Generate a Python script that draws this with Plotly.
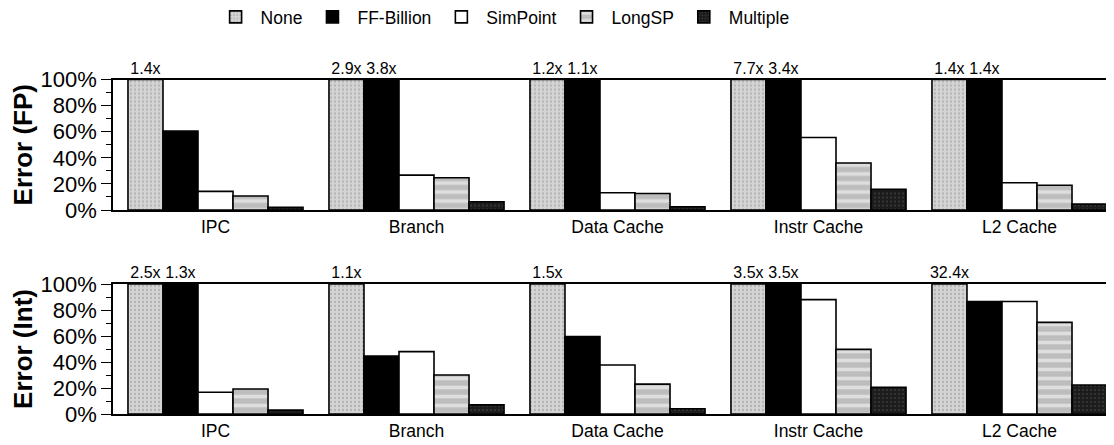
import plotly.graph_objects as go
from plotly.subplots import make_subplots

categories = ["IPC", "Branch", "Data Cache", "Instr Cache", "L2 Cache"]
series_names = ["None", "FF-Billion", "SimPoint", "LongSP", "Multiple"]

# Error in percent; values above 100 are shown clipped with an "Nx" label
fp_none = [140, 290, 120, 770, 140]
fp_ff = [60.5, 380, 110, 340, 140]
fp_simpoint = [14.3, 26.7, 13.2, 55.5, 20.9]
fp_longsp = [10.7, 24.7, 12.7, 36.0, 19.0]
fp_multiple = [2.0, 6.3, 2.5, 15.8, 4.5]

int_none = [250, 110, 150, 350, 3240]
int_ff = [130, 44.6, 59.5, 350, 86.5]
int_simpoint = [16.7, 48.0, 37.7, 88.0, 86.5]
int_longsp = [19.2, 30.0, 23.0, 49.7, 70.5]
int_multiple = [3.0, 7.0, 4.0, 20.5, 22.3]

y_ticks = [0, 20, 40, 60, 80, 100]
y_ticktext = [f"{t}%" for t in y_ticks]

styles = {
    "None": dict(color="#d4d4d4", pattern=dict(shape=".", fgcolor="#8f8f8f", bgcolor="#d4d4d4", size=4, solidity=0.25)),
    "FF-Billion": dict(color="#000000"),
    "SimPoint": dict(color="#ffffff"),
    "LongSP": dict(color="#bdbdbd", pattern=dict(shape="-", fgcolor="#ffffff", bgcolor="#bdbdbd", size=9, solidity=0.4)),
    "Multiple": dict(color="#1c1c1c", pattern=dict(shape=".", fgcolor="#5a5a5a", bgcolor="#1c1c1c", size=4, solidity=0.2)),
}

FONT = "Liberation Sans, Arial, Helvetica, sans-serif"

fig = make_subplots(rows=2, cols=1)

panels = [
    (1, [fp_none, fp_ff, fp_simpoint, fp_longsp, fp_multiple]),
    (2, [int_none, int_ff, int_simpoint, int_longsp, int_multiple]),
]

for row, series in panels:
    for name, vals in zip(series_names, series):
        st = styles[name]
        marker = dict(color=st["color"], line=dict(color="black", width=1.6))
        if "pattern" in st:
            marker["pattern"] = st["pattern"]
        fig.add_trace(
            go.Bar(
                x=categories,
                y=[min(v, 100) for v in vals],
                name=name,
                marker=marker,
                text=[f"{v / 100:.1f}x" if v > 100 else "" for v in vals],
                textposition="outside",
                cliponaxis=False,
                constraintext="none",
                textfont=dict(size=16, color="black", family=FONT),
                showlegend=(row == 1),
                legendgroup=name,
            ),
            row=row, col=1,
        )

axis_common_x = dict(
    type="category", range=[-0.51, 4.51], showline=True, mirror=True,
    linecolor="black", linewidth=1.6, ticks="", showgrid=False,
    tickfont=dict(size=17.5, color="black", family=FONT),
)
axis_common_y = dict(
    range=[0, 100], tickmode="array", tickvals=y_ticks, ticktext=y_ticktext,
    showline=True, linecolor="black", linewidth=1.6, ticks="outside", ticklen=10,
    tickwidth=1.4, tickcolor="black", showgrid=False, zeroline=False,
    minor=dict(dtick=10, ticks="outside", ticklen=5, tickcolor="black", tickwidth=1.2),
    tickfont=dict(size=22, color="black", family=FONT),
)

fig.update_xaxes(**axis_common_x)
fig.update_yaxes(**axis_common_y)

H = 445
OFF = 8  # page body margin offset
fig.update_layout(
    width=1114, height=H,
    margin=dict(l=113 - OFF, r=0, t=0, b=0, autoexpand=False),
    paper_bgcolor="white", plot_bgcolor="white",
    barmode="group", bargap=0.129, bargroupgap=0,
    font=dict(family=FONT, color="black"),
    xaxis=dict(domain=[0, 1]),
    xaxis2=dict(domain=[0, 1]),
    yaxis=dict(domain=[(H - (210 - OFF)) / H, (H - (79.5 - OFF)) / H],
               title=dict(text="<b>Error (FP)</b>", font=dict(size=26), standoff=2)),
    yaxis2=dict(domain=[(H - (414 - OFF)) / H, (H - (284 - OFF)) / H],
                title=dict(text="<b>Error (Int)</b>", font=dict(size=26), standoff=2)),
    legend=dict(
        orientation="h", xref="container", yref="container",
        x=0.444, y=1 - (17 - OFF) / H, xanchor="center", yanchor="middle",
        font=dict(size=17.5, color="black", family=FONT),
        itemwidth=40,
    ),
)

fig.write_html("out.html")
